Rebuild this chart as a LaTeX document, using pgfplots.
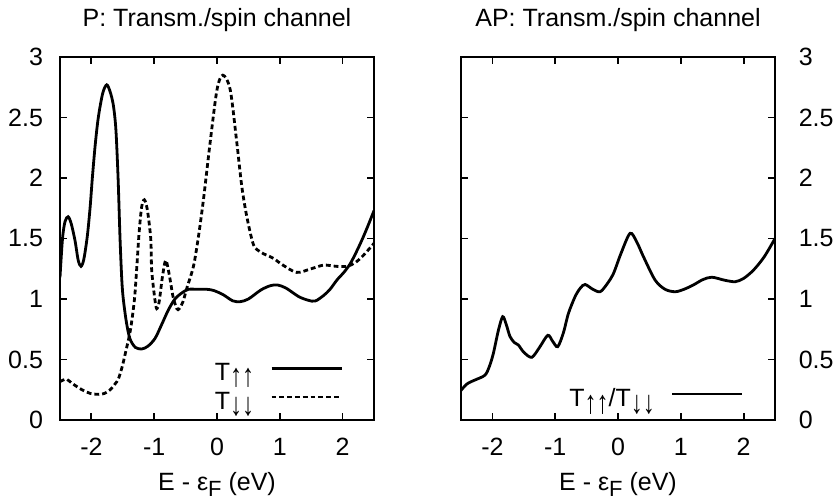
\documentclass[border=0pt]{standalone}
\usepackage{fontspec}
\setmainfont{Liberation Sans}
\usepackage{graphicx}
\usepackage{pgfplots}
\pgfplotsset{compat=1.18}

% lowered subscript in the style of gnuplot's enhanced text
\newcommand\sub[2][12bp]{\raisebox{-3bp}{\fontsize{#1}{#1}\selectfont #2}}
% spin arrows, drawn a little taller than the plain glyphs
\newcommand\arr[1]{\raisebox{-3.2bp}{\fontsize{12bp}{12bp}\selectfont\scalebox{1}[1.35]{#1}}}

\pgfplotstableread{
x y
-2.50 1.18
-2.46 1.50
-2.42 1.64
-2.37 1.68
-2.32 1.62
-2.26 1.48
-2.21 1.32
-2.165 1.27
-2.12 1.33
-2.065 1.52
-2.02 1.76
-1.985 2.00
-1.94 2.27
-1.89 2.50
-1.82 2.70
-1.756 2.77
-1.70 2.71
-1.65 2.60
-1.61 2.40
-1.575 2.00
-1.544 1.50
-1.515 1.15
-1.49 0.99
-1.44 0.80
-1.385 0.67
-1.30 0.60
-1.198 0.587
-1.10 0.61
-0.986 0.675
-0.88 0.79
-0.774 0.91
-0.67 1.00
-0.56 1.05
-0.455 1.08
-0.30 1.08
-0.16 1.08
-0.05 1.07
0.10 1.035
0.25 0.985
0.37 0.978
0.50 1.00
0.70 1.075
0.85 1.11
0.963 1.116
1.10 1.09
1.30 1.02
1.45 0.99
1.564 0.983
1.70 1.03
1.80 1.08
1.91 1.157
2.02 1.22
2.12 1.29
2.22 1.39
2.31 1.49
2.40 1.60
2.50 1.73
}\upup

\pgfplotstableread{
x y
-2.50 0.317
-2.45 0.33
-2.39 0.336
-2.30 0.30
-2.15 0.25
-2.02 0.22
-1.89 0.212
-1.79 0.22
-1.70 0.25
-1.62 0.30
-1.57 0.34
-1.51 0.44
-1.46 0.55
-1.38 0.74
-1.316 0.99
-1.28 1.24
-1.24 1.55
-1.20 1.76
-1.157 1.82
-1.11 1.74
-1.055 1.50
-1.04 1.24
-0.99 1.00
-0.96 0.92
-0.92 0.98
-0.87 1.18
-0.816 1.32
-0.76 1.20
-0.70 1.02
-0.64 0.92
-0.60 0.92
-0.54 0.98
-0.48 1.09
-0.375 1.27
-0.30 1.50
-0.216 1.82
-0.11 2.29
0.00 2.73
0.093 2.85
0.21 2.73
0.316 2.29
0.395 1.93
0.475 1.68
0.58 1.45
0.687 1.39
0.80 1.36
0.90 1.336
1.05 1.28
1.27 1.22
1.50 1.25
1.70 1.28
1.90 1.27
2.07 1.27
2.20 1.30
2.33 1.36
2.50 1.46
}\dndn

\pgfplotstableread{
x y
-2.50 0.245
-2.40 0.30
-2.28 0.33
-2.12 0.37
-2.05 0.44
-1.985 0.55
-1.905 0.74
-1.836 0.854
-1.78 0.79
-1.72 0.69
-1.65 0.64
-1.587 0.62
-1.50 0.56
-1.373 0.518
-1.25 0.60
-1.118 0.70
-1.04 0.65
-0.96 0.606
-0.87 0.72
-0.79 0.88
-0.683 1.02
-0.60 1.09
-0.524 1.12
-0.40 1.08
-0.285 1.06
-0.18 1.12
-0.073 1.21
0.05 1.38
0.193 1.543
0.30 1.47
0.405 1.35
0.59 1.157
0.75 1.08
0.91 1.06
1.05 1.08
1.20 1.116
1.35 1.16
1.495 1.18
1.70 1.155
1.867 1.143
2.00 1.17
2.16 1.24
2.33 1.35
2.50 1.50
}\ratio

\pgfplotsset{
  gpframe/.style={
    scale only axis, width=157bp, height=181.5bp,
    xmin=-2.5, xmax=2.5, ymin=0, ymax=3,
    xtick={-2,-1,0,1,2}, ytick={0,0.5,1,1.5,2,2.5,3},
    tick align=inside, major tick length=3.5bp,
    axis line style={line width=0.9bp},
    every tick/.style={black, line width=0.9bp},
    /pgf/number format/assume math mode=true,
    tick label style={font=\fontsize{12.5bp}{15bp}\selectfont},
    xticklabel style={anchor=base, yshift=-17.5bp, inner sep=0pt},
    every axis title/.style={at={(0.5,1)}, anchor=base, yshift=15.2bp,
      inner sep=0pt, font=\fontsize{12.5bp}{15bp}\selectfont},
    xlabel={E - ε\sub[11bp]{F} (eV)},
    xlabel style={at={(axis description cs:0.5,0)}, anchor=base, yshift=-35.3bp,
      inner sep=0pt, font=\fontsize{12.5bp}{15bp}\selectfont},
    legend image code/.code={\draw[##1] (0bp,2.7bp) -- (35bp,2.7bp);},
    legend plot pos=right,
    legend cell align=right,
    legend style={draw=none, fill=none, inner sep=0pt, outer sep=0pt,
      column sep=8bp, row sep=3.9bp,
      nodes={inner sep=0pt, font=\fontsize{12.5bp}{15bp}\selectfont}},
  },
  gpline/.style={black, line width=1.4bp, smooth, tension=0.5, no markers},
  gpdash/.style={gpline, dash pattern=on 2.4bp off 1.5bp},
}

\begin{document}
\fontsize{12.5bp}{15bp}\selectfont
\begin{tikzpicture}
\path[use as bounding box] (0bp,0bp) rectangle (417bp,249.5bp);

% parallel alignment
\begin{axis}[gpframe, at={(30bp,39.5bp)}, anchor=south west,
    title={P: Transm./spin channel},
    yticklabel style={anchor=east, xshift=-8.3bp, inner sep=0pt},
    legend style={at={(axis cs:2.005,0.47)}, anchor=north east}]
  \addplot[gpline] table[x=x, y=y] {\upup};
  \addlegendentry{T\arr{↑↑}}
  \addplot[gpdash] table[x=x, y=y] {\dndn};
  \addlegendentry{T\arr{↓↓}}
\end{axis}

% antiparallel alignment
\begin{axis}[gpframe, at={(230.5bp,39.5bp)}, anchor=south west,
    title={AP: Transm./spin channel},
    yticklabel pos=right,
    yticklabel style={anchor=west, xshift=11.7bp, inner sep=0pt},
    legend style={at={(axis cs:2.0,0.26)}, anchor=north east}]
  \addplot[gpline] table[x=x, y=y] {\ratio};
  \addlegendentry{T\arr{↑↑}/T\arr{↓↓}}
\end{axis}
\end{tikzpicture}
\end{document}
